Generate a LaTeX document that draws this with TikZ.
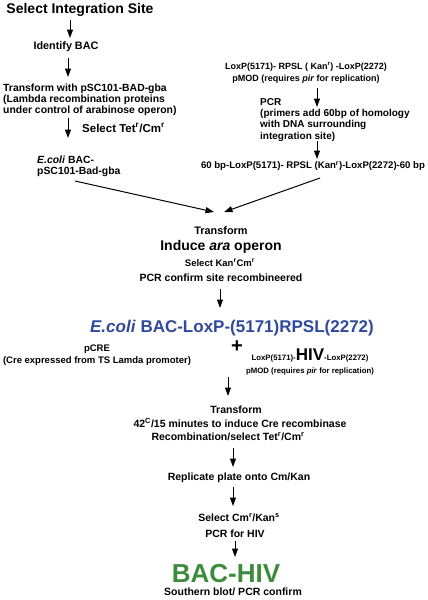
\documentclass[tikz,border=0pt]{standalone}
\usepackage{fontspec}
\setmainfont{Liberation Sans}
\usetikzlibrary{arrows.meta}
\definecolor{ecoliblue}{HTML}{2F4A9C}
\definecolor{hivgreen}{HTML}{3D8B3D}
\newcommand{\fsz}[2]{\fontsize{#1}{#2}\selectfont}
\begin{document}
\begin{tikzpicture}[x=1pt,y=-1pt,
  txt/.style={inner sep=0pt, font=\bfseries},
  arr/.style={line width=1pt, -{Triangle[length=8.5pt,width=6pt]}},
  ]
\useasboundingbox (0,0) rectangle (428,600);
% left column
\node[txt, font=\bfseries\fsz{14}{16}] (t1) at (80,10) {Select Integration Site};
\coordinate (a1s) at (70,20); \coordinate (a1e) at (70,38);
\node[txt, font=\bfseries\fsz{10.8}{12}] (t2) at (66,47) {Identify BAC};
\coordinate (a2s) at (68,58); \coordinate (a2e) at (68,77);
\node[txt, anchor=north west, align=left, font=\bfseries\fsz{10.4}{11}] (t3) at (3,84)
  {Transform with pSC101-BAD-gba\\(Lambda recombination proteins\\under control of arabinose operon)};
\coordinate (a3s) at (68,118); \coordinate (a3e) at (68,138);
\node[txt, anchor=west, font=\bfseries\fsz{11.5}{13}] (t4) at (82,128) {Select Tet\textsuperscript{r}/Cm\textsuperscript{r}};
\node[txt, anchor=north west, align=left, font=\bfseries\fsz{10.4}{11}] (t5) at (37,156)
  {\textit{E.coli} BAC-\\pSC101-Bad-gba};
% right column
\node[txt, align=center, font=\bfseries\fsz{9}{12}] (r1) at (306,73)
  {LoxP(5171)- RPSL ( Kan\textsuperscript{r}) -LoxP(2272)\\pMOD (requires \textit{pir} for replication)};
\coordinate (a4s) at (317,88); \coordinate (a4e) at (317,107);
\node[txt, anchor=north west, align=left, font=\bfseries\fsz{10}{11.3}] (r2) at (260,98)
  {PCR\\(primers add 60bp of homology\\with DNA surrounding\\integration site)};
\coordinate (a5s) at (317,141); \coordinate (a5e) at (317,159);
\node[txt, font=\bfseries\fsz{9.6}{11}] (r3) at (313,166)
  {60 bp-LoxP(5171)- RPSL (Kan\textsuperscript{r})-LoxP(2272)-60 bp};
% converge
\coordinate (c1s) at (75,181); \coordinate (c1e) at (214,212);
\coordinate (c2s) at (320,178); \coordinate (c2e) at (224,212);
\node[txt, font=\bfseries\fsz{10.9}{12}] (m1) at (221,231) {Transform};
\node[txt, font=\bfseries\fsz{14}{16}] (m2) at (221,247) {Induce \textit{ara} operon};
\node[txt, font=\bfseries\fsz{9.5}{11}] (m3) at (220,263) {Select Kan\textsuperscript{r}Cm\textsuperscript{r}};
\node[txt, font=\bfseries\fsz{10.5}{12}] (m4) at (221,278) {PCR confirm site recombineered};
\coordinate (a6s) at (220,289); \coordinate (a6e) at (220,308);
\node[txt, text=ecoliblue, font=\bfseries\fsz{17}{19}] (m5) at (232,328) {\textit{E.coli} BAC-LoxP-(5171)RPSL(2272)};
\node[txt, font=\bfseries\fsz{20}{20}] (plus) at (237,347) {+};
\node[txt, align=center, font=\bfseries\fsz{9.5}{12}] (p1) at (97,355)
  {pCRE\\(Cre expressed from TS Lamda promoter)};
\node[txt, align=center, font=\bfseries\fsz{7.8}{13}] (p2) at (310,362)
  {LoxP(5171)-{\fsz{17}{13}HIV}-LoxP(2272)\\pMOD (requires \textit{pir} for replication)};
\coordinate (a7s) at (228,377); \coordinate (a7e) at (228,396);
\node[txt, font=\bfseries\fsz{10.5}{12}] (b1) at (236,410) {Transform};
\node[txt, font=\bfseries\fsz{10.5}{12}] (b2) at (240,423) {42\textsuperscript{C}/15 minutes to induce Cre recombinase};
\node[txt, font=\bfseries\fsz{10.5}{12}] (b3) at (228,437) {Recombination/select Tet\textsuperscript{r}/Cm\textsuperscript{r}};
\coordinate (a8s) at (233,448); \coordinate (a8e) at (233,467);
\node[txt, font=\bfseries\fsz{10.5}{12}] (b4) at (239,478) {Replicate plate onto Cm/Kan};
\coordinate (a9s) at (233,487); \coordinate (a9e) at (233,506);
\node[txt, font=\bfseries\fsz{10.5}{12}] (b5) at (239,518) {Select Cm\textsuperscript{r}/Kan\textsuperscript{s}};
\node[txt, font=\bfseries\fsz{10.5}{12}] (b6) at (235,534) {PCR for HIV};
\coordinate (a10s) at (235,541); \coordinate (a10e) at (235,557);
\node[txt, text=hivgreen, font=\bfseries\fsz{26}{28}] (b7) at (226,574) {BAC-HIV};
\node[txt, font=\bfseries\fsz{10.5}{12}] (b8) at (233,592) {Southern blot/ PCR confirm};
% arrows
\foreach \s/\e in {a1s/a1e,a2s/a2e,a3s/a3e,a4s/a4e,a5s/a5e,c1s/c1e,c2s/c2e,a6s/a6e,a7s/a7e,a8s/a8e,a9s/a9e,a10s/a10e}
  \draw[arr] (\s) -- (\e);
\end{tikzpicture}
\end{document}
